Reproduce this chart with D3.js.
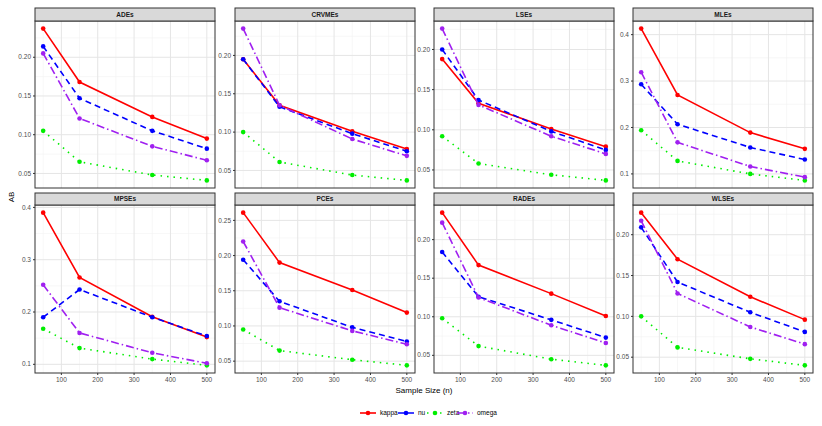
<!DOCTYPE html>
<html>
<head>
<meta charset="utf-8">
<script src="https://d3js.org/d3.v7.min.js"></script>
<style>
  body { margin: 0; background: #fff; font-family: 'Liberation Sans', Arial, sans-serif; }
</style>
</head>
<body>
<svg id="chart" width="822" height="426"></svg>
<script>
// sample sizes and estimators
const sizes = [50, 150, 350, 500];
const panels = ["ADEs", "CRVMEs", "LSEs", "MLEs", "MPSEs", "PCEs", "RADEs", "WLSEs"];
const params = ["kappa", "nu", "zeta", "omega"];

// AB values per panel, in params order, each over sizes
const kappa = [
  [.237, .168, .123, .095], [.195, .135, .101, .078], [.188, .133, .101, .079], [.413, .270, .189, .154],
  [.390, .266, .191, .152], [.261, .190, .151, .119], [.235, .167, .130, .101], [.227, .170, .124, .096]
];
const nu = [
  [.214, .147, .105, .082], [.195, .133, .098, .075], [.200, .137, .098, .075], [.293, .207, .157, .131],
  [.190, .243, .190, .154], [.194, .135, .098, .078], [.184, .126, .096, .073], [.209, .142, .105, .081]
];
const zeta = [
  [.105, .065, .048, .041], [.100, .061, .044, .037], [.092, .058, .044, .037], [.194, .128, .100, .086],
  [.168, .131, .110, .098], [.095, .065, .052, .044], [.098, .062, .045, .037], [.100, .062, .048, .040]
];
const omega = [
  [.205, .121, .085, .067], [.235, .135, .091, .069], [.226, .131, .092, .070], [.319, .168, .116, .093],
  [.252, .160, .122, .102], [.220, .126, .093, .074], [.222, .125, .089, .066], [.217, .128, .087, .066]
];
const series = { kappa, nu, zeta, omega };

const colors = { kappa: "#ff0000", nu: "#0000ff", zeta: "#00ee00", omega: "#a020f0" };
const dashes = { kappa: null, nu: "6,4", zeta: "1.5,5", omega: "8,3,1.5,3" };

const svg = d3.select("#chart");
const colX = [35, 235, 434, 633];
const pw = 180;
const rows = [{ strip: 8, top: 21, bottom: 188 }, { strip: 193, top: 205, bottom: 373 }];

const x = d3.scaleLinear().domain([27.5, 522.5]).range([0, pw]);

panels.forEach((name, i) => {
  const r = rows[Math.floor(i / 4)];
  const g = svg.append("g").attr("transform", `translate(${colX[i % 4]},${r.top})`);
  const ph = r.bottom - r.top;
  const all = params.flatMap(p => series[p][i]);
  const [lo, hi] = d3.extent(all);
  const pad = (hi - lo) * 0.05;
  const y = d3.scaleLinear().domain([lo - pad, hi + pad]).range([ph, 0]);
  const yt = y.ticks(4);
  const step = yt[1] - yt[0];
  const fmt = y.tickFormat(4);

  // minor grid
  const xt = [100, 200, 300, 400, 500];
  const xminor = [50, 150, 250, 350, 450];
  g.selectAll(".xm").data(xminor).enter().append("line")
    .attr("x1", d => x(d)).attr("x2", d => x(d)).attr("y1", 0).attr("y2", ph)
    .attr("stroke", "#f2f2f2").attr("stroke-width", 0.6);
  const yminor = d3.range(yt[0] - step / 2, hi + pad, step).filter(v => y(v) >= 0 && y(v) <= ph);
  g.selectAll(".ym").data(yminor).enter().append("line")
    .attr("x1", 0).attr("x2", pw).attr("y1", d => y(d)).attr("y2", d => y(d))
    .attr("stroke", "#f2f2f2").attr("stroke-width", 0.6);
  // major grid
  g.selectAll(".xg").data(xt).enter().append("line")
    .attr("x1", d => x(d)).attr("x2", d => x(d)).attr("y1", 0).attr("y2", ph)
    .attr("stroke", "#e5e5e5").attr("stroke-width", 1);
  g.selectAll(".yg").data(yt).enter().append("line")
    .attr("x1", 0).attr("x2", pw).attr("y1", d => y(d)).attr("y2", d => y(d))
    .attr("stroke", "#e5e5e5").attr("stroke-width", 1);

  // y axis labels
  g.selectAll(".yl").data(yt).enter().append("text")
    .attr("x", -4).attr("y", d => y(d)).attr("dy", "0.33em")
    .attr("text-anchor", "end").attr("font-size", 6.5).attr("fill", "#4d4d4d")
    .text(fmt);
  g.selectAll(".ytk").data(yt).enter().append("line")
    .attr("x1", -2).attr("x2", 0).attr("y1", d => y(d)).attr("y2", d => y(d)).attr("stroke", "#333");

  if (i >= 4) {
    g.selectAll(".xl").data(xt).enter().append("text")
      .attr("x", d => x(d)).attr("y", ph + 9)
      .attr("text-anchor", "middle").attr("font-size", 6.5).attr("fill", "#4d4d4d")
      .text(d => d);
    g.selectAll(".xtk").data(xt).enter().append("line")
      .attr("x1", d => x(d)).attr("x2", d => x(d)).attr("y1", ph).attr("y2", ph + 2).attr("stroke", "#333");
  }

  // lines and points
  const line = d3.line().x((d, j) => x(sizes[j])).y(d => y(d));
  params.forEach(p => {
    g.append("path").datum(series[p][i])
      .attr("d", line).attr("fill", "none")
      .attr("stroke", colors[p]).attr("stroke-width", 1.6)
      .attr("stroke-dasharray", dashes[p]);
    g.selectAll(null).data(series[p][i]).enter().append("circle")
      .attr("cx", (d, j) => x(sizes[j])).attr("cy", d => y(d)).attr("r", 2.3)
      .attr("fill", colors[p]);
  });

  // border
  g.append("rect").attr("width", pw).attr("height", ph)
    .attr("fill", "none").attr("stroke", "#333").attr("stroke-width", 1);

  // strip
  const sh = r.top - r.strip;
  g.append("rect").attr("y", -sh).attr("width", pw).attr("height", sh)
    .attr("fill", "#d9d9d9").attr("stroke", "#333").attr("stroke-width", 1);
  g.append("text").attr("x", pw / 2).attr("y", -sh / 2).attr("dy", "0.35em")
    .attr("text-anchor", "middle").attr("font-size", 6.5).attr("font-weight", "bold")
    .attr("fill", "#1a1a1a").text(name);
});

// axis titles
svg.append("text").attr("x", 424).attr("y", 393).attr("text-anchor", "middle")
  .attr("font-size", 8).attr("fill", "#000").text("Sample Size (n)");
svg.append("text").attr("transform", "translate(14,197) rotate(-90)").attr("text-anchor", "middle")
  .attr("font-size", 8).attr("fill", "#000").text("AB");

// legend
const legX = [360, 398, 427, 457];
params.forEach((p, k) => {
  const lg = svg.append("g").attr("transform", `translate(${legX[k]},413)`);
  lg.append("line").attr("x1", 0).attr("x2", 16).attr("stroke", colors[p])
    .attr("stroke-width", 1.6).attr("stroke-dasharray", dashes[p]);
  lg.append("circle").attr("cx", 8).attr("r", 2.3).attr("fill", colors[p]);
  lg.append("text").attr("x", 20).attr("dy", "0.33em").attr("font-size", 6.5).attr("fill", "#000").text(p);
});
</script>
</body>
</html>
